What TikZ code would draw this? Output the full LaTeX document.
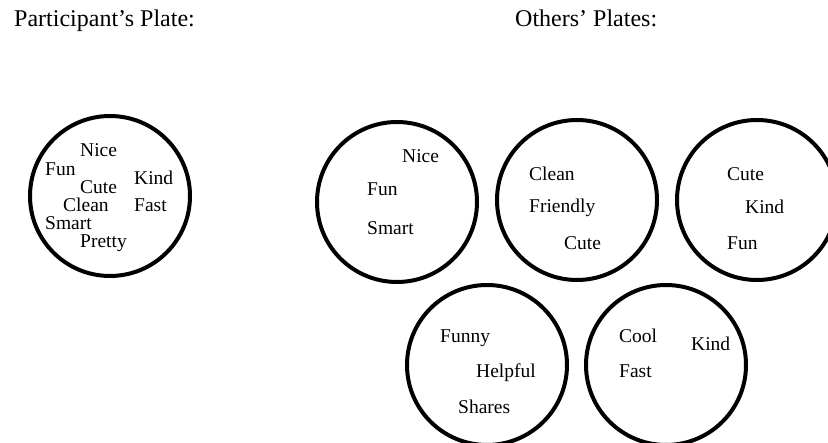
\documentclass[tikz,border=0pt]{standalone}
\usepackage{fontspec}
\setmainfont{Liberation Serif}
\usepackage{tikz}
\usetikzlibrary{positioning}

\begin{document}
\begin{tikzpicture}[x=1pt,y=-1pt,
  plate/.style={circle,draw=black,line width=4pt,minimum size=160pt,inner sep=0pt},
  word/.style={anchor=base west,inner sep=0pt,font=\fontsize{19.5}{20}\selectfont},
  heading/.style={anchor=base west,inner sep=0pt,font=\fontsize{24}{26}\selectfont}]
\useasboundingbox (0,0) rectangle (828,443);

\node[heading] (ptitle) at (14,27) {Participant's Plate:};
\node[heading] (otitle) at (515,27) {Others' Plates:};

% participant's plate
\node[plate] (own) at (110,196) {};
\node[word] (ownNice) at (80,157) {Nice};
\node[word] (ownFun) at (45,176) {Fun};
\node[word] (ownKind) at (134,185) {Kind};
\node[word] (ownCute) at (80,194) {Cute};
\node[word] (ownClean) at (63,212) {Clean};
\node[word] (ownFast) at (134,212) {Fast};
\node[word] (ownSmart) at (45,230) {Smart};
\node[word] (ownPretty) at (80,248) {Pretty};

% others' plates, top row
\node[plate] (other1) at (397,202) {};
\node[word] (o1Nice) at (402,163) {Nice};
\node[word] (o1Fun) at (367,196) {Fun};
\node[word] (o1Smart) at (367,235) {Smart};

\node[plate] (other2) at (577,200) {};
\node[word] (o2Clean) at (529,181) {Clean};
\node[word] (o2Friendly) at (529,213) {Friendly};
\node[word] (o2Cute) at (564,250) {Cute};

\node[plate] (other3) at (757,200) {};
\node[word] (o3Cute) at (727,181) {Cute};
\node[word] (o3Kind) at (745,214) {Kind};
\node[word] (o3Fun) at (727,250) {Fun};

% others' plates, bottom row
\node[plate] (other4) at (487,365) {};
\node[word] (o4Funny) at (440,343) {Funny};
\node[word] (o4Helpful) at (476,378) {Helpful};
\node[word] (o4Shares) at (458,414) {Shares};

\node[plate] (other5) at (666,365) {};
\node[word] (o5Cool) at (619,343) {Cool};
\node[word] (o5Kind) at (691,351) {Kind};
\node[word] (o5Fast) at (619,378) {Fast};

\end{tikzpicture}
\end{document}
